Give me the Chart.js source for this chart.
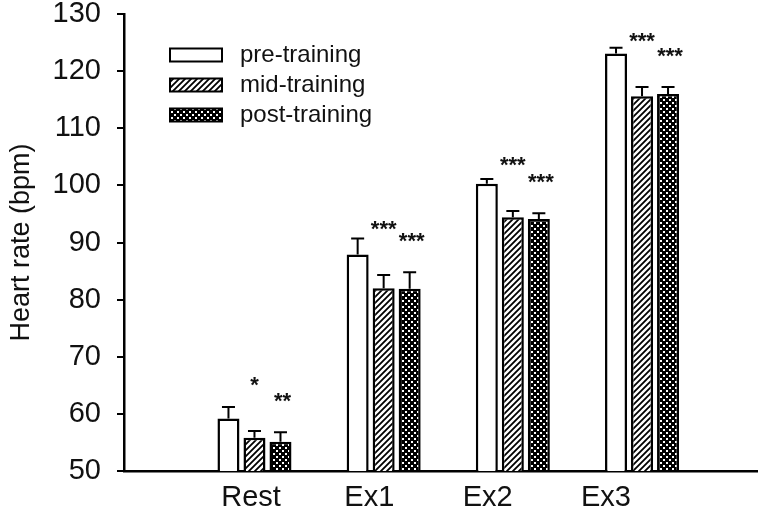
<!DOCTYPE html>
<html>
<head>
<meta charset="utf-8">
<script src="https://cdn.jsdelivr.net/npm/chart.js@4.4.1/dist/chart.umd.min.js"></script>
<style>
  html, body { margin: 0; padding: 0; background: #fff; }
  #wrap { width: 771px; height: 518px; }
</style>
</head>
<body>
<div id="wrap"><canvas id="hrChart" width="771" height="518"></canvas></div>
<script>
const categories = ['Rest', 'Ex1', 'Ex2', 'Ex3'];
const seriesNames = ['pre-training', 'mid-training', 'post-training'];
const preValues = [59.2, 87.9, 100.3, 123.1];
const preErrors = [2.0, 2.8, 0.8, 1.0];
const midValues = [55.8, 82.0, 94.4, 115.6];
const midErrors = [1.2, 2.3, 1.1, 1.6];
const postValues = [55.1, 81.9, 94.1, 116.0];
const postErrors = [1.7, 2.9, 1.0, 1.2];
const midStars = ['*', '***', '***', '***'];
const postStars = ['**', '***', '***', '***'];
const yMin = 50, yMax = 130, yStep = 10;

const FONT = "'Liberation Sans', Arial, Helvetica, sans-serif";
const INK = '#111';

function makeHatch() {
  const c = document.createElement('canvas');
  c.width = 6; c.height = 6;
  const g = c.getContext('2d');
  g.fillStyle = '#fff';
  g.fillRect(0, 0, 6, 6);
  g.strokeStyle = '#000';
  g.lineWidth = 1.8;
  g.beginPath();
  g.moveTo(-1, 7); g.lineTo(7, -1);
  g.moveTo(-4, 4); g.lineTo(4, -4);
  g.moveTo(2, 10); g.lineTo(10, 2);
  g.stroke();
  return g.createPattern(c, 'repeat');
}

function makeDots() {
  const c = document.createElement('canvas');
  c.width = 6; c.height = 6;
  const g = c.getContext('2d');
  g.fillStyle = '#000';
  g.fillRect(0, 0, 6, 6);
  g.fillStyle = '#fff';
  g.fillRect(0, 0, 2, 2);
  g.fillRect(3, 3, 2, 2);
  return g.createPattern(c, 'repeat');
}

const fills = ['#fff', makeHatch(), makeDots()];
const seriesValues = [preValues, midValues, postValues];
const seriesErrors = [preErrors, midErrors, postErrors];
const seriesStars = [null, midStars, postStars];
const starLift = [0, 52, 37];

const datasets = seriesNames.map((name, d) => ({
  label: name,
  data: seriesValues[d].map((v, i) => ({ x: i, y: v })),
  backgroundColor: fills[d],
  borderColor: '#000',
  borderWidth: 2.5,
  borderSkipped: false,
  categoryPercentage: 0.604,
  barPercentage: 0.846,
  xAxisID: 'x',
  yAxisID: 'y'
}));

const decorations = {
  id: 'decorations',
  afterDatasetsDraw(chart) {
    const ctx = chart.ctx;
    const y = chart.scales.y;
    ctx.save();
    ctx.strokeStyle = '#000';
    ctx.lineWidth = 2;
    datasets.forEach((ds, d) => {
      const meta = chart.getDatasetMeta(d);
      meta.data.forEach((bar, i) => {
        const top = y.getPixelForValue(seriesValues[d][i] + seriesErrors[d][i]);
        ctx.beginPath();
        ctx.moveTo(bar.x, bar.y);
        ctx.lineTo(bar.x, top);
        ctx.moveTo(bar.x - 6.5, top);
        ctx.lineTo(bar.x + 6.5, top);
        ctx.stroke();
        if (seriesStars[d]) {
          ctx.fillStyle = INK;
          ctx.font = 'bold 22px ' + FONT;
          ctx.textAlign = 'center';
          ctx.textBaseline = 'alphabetic';
          ctx.fillText(seriesStars[d][i], bar.x + (d === 2 ? 2 : 0), top - starLift[d] + 12.5);
        }
      });
    });
    ctx.restore();
  },
  afterDraw(chart) {
    const ctx = chart.ctx;
    ctx.save();
    seriesNames.forEach((name, d) => {
      const rowY = 55 + d * 30;
      ctx.fillStyle = fills[d];
      ctx.fillRect(170, rowY - 6.5, 52, 13);
      ctx.strokeStyle = '#000';
      ctx.lineWidth = 2;
      ctx.strokeRect(170, rowY - 6.5, 52, 13);
      ctx.fillStyle = INK;
      ctx.font = '24px ' + FONT;
      ctx.textAlign = 'left';
      ctx.textBaseline = 'middle';
      ctx.fillText(name, 240, rowY);
    });
    ctx.restore();
  }
};

new Chart(document.getElementById('hrChart'), {
  type: 'bar',
  data: { datasets },
  plugins: [decorations],
  options: {
    responsive: false,
    animation: false,
    events: [],
    layout: { padding: { left: 0, top: 14, right: 14, bottom: 0 } },
    plugins: { legend: { display: false }, tooltip: { enabled: false } },
    scales: {
      x: {
        type: 'linear',
        position: 'bottom',
        offset: false,
        min: -1.01,
        max: 3.89,
        ticks: { display: false, stepSize: 1, includeBounds: false },
        grid: { display: false, drawTicks: false, offset: false },
        border: { display: true, color: '#000', width: 2.5 },
        afterFit: s => { s.height = 0; }
      },
      xl: {
        type: 'linear',
        position: 'bottom',
        offset: false,
        min: -1.074,
        max: 4.277,
        ticks: {
          stepSize: 1,
          includeBounds: false,
          autoSkip: false,
          maxRotation: 0,
          padding: 10,
          color: INK,
          font: { family: FONT, size: 29 },
          callback: v => categories[v] ?? ''
        },
        grid: { display: false, drawTicks: false, offset: false },
        border: { display: false },
        afterFit: s => { s.height = 47; s.paddingLeft = 0; s.paddingRight = 0; }
      },
      y: {
        min: yMin,
        max: yMax,
        ticks: {
          stepSize: yStep,
          padding: 16,
          color: INK,
          font: { family: FONT, size: 29, lineHeight: 1 }
        },
        grid: { drawOnChartArea: false, drawTicks: true, tickLength: 7, color: '#000', lineWidth: 2 },
        border: { display: true, color: '#000', width: 2.5 },
        title: {
          display: true,
          text: 'Heart rate (bpm)',
          color: INK,
          font: { family: FONT, size: 27 },
          padding: { top: 5, bottom: 0 }
        },
        afterFit: s => { s.width = 124; s.paddingTop = 0; s.paddingBottom = 0; }
      }
    }
  }
});
</script>
</body>
</html>
